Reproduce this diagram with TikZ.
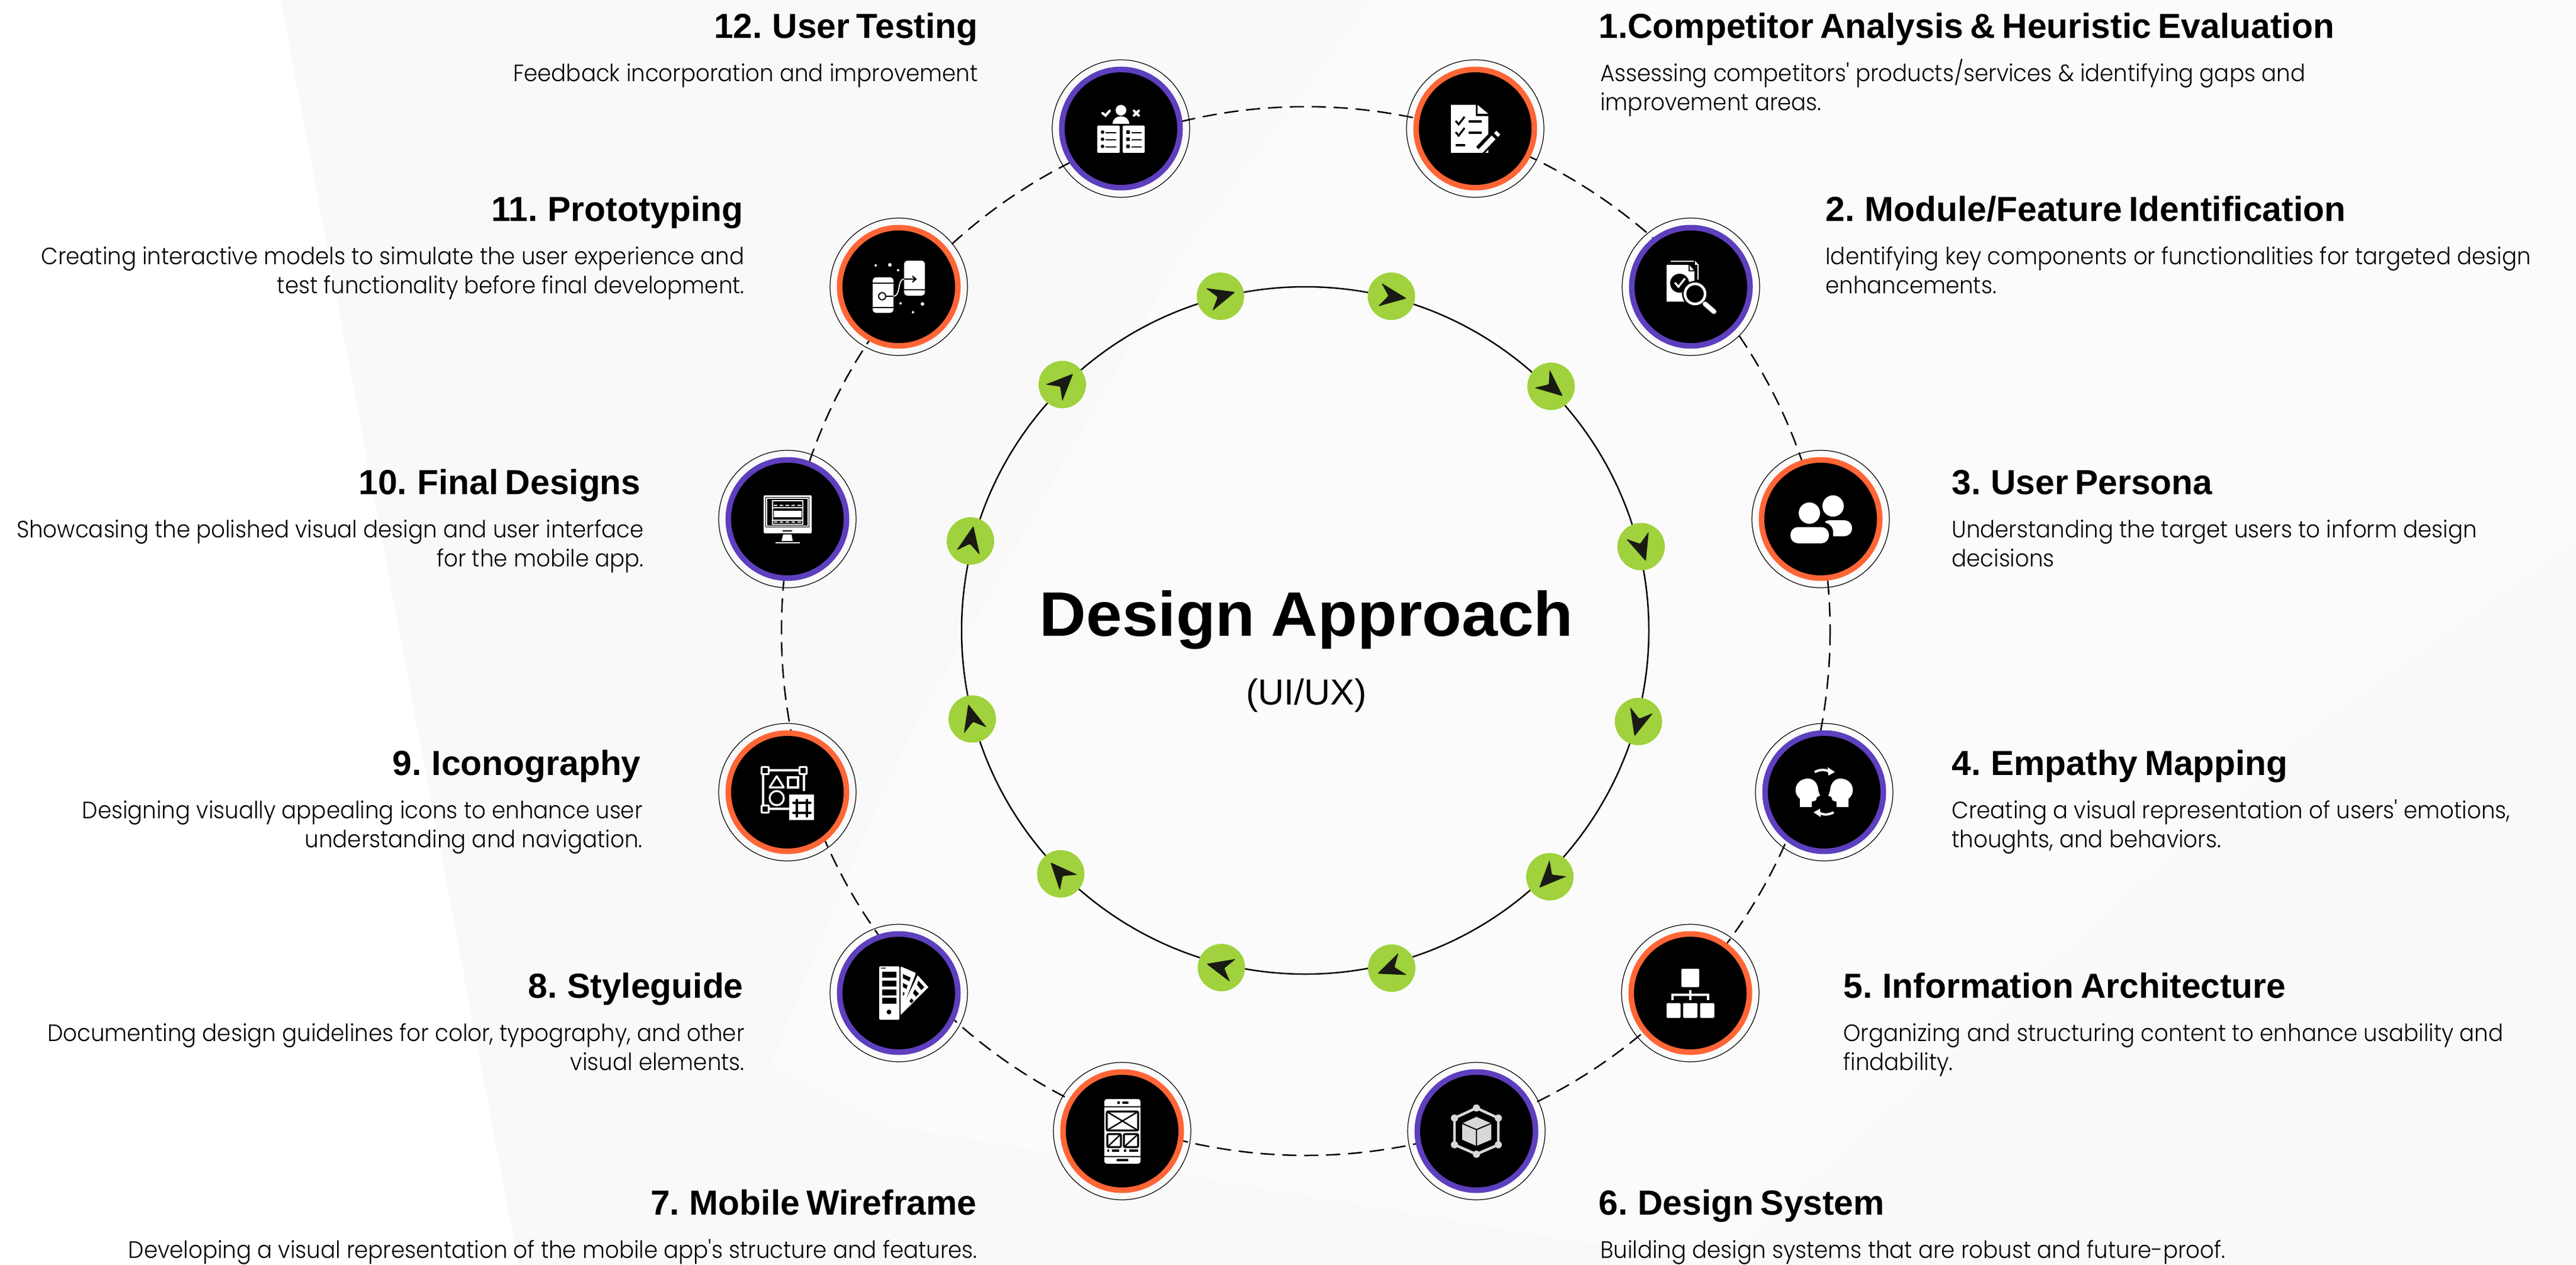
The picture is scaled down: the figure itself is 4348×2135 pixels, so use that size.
\documentclass[tikz,border=0pt]{standalone}
\usepackage{fontspec}
\setmainfont{Liberation Sans}
\newfontfamily\bodyfont[FakeStretch=0.93]{Poppins Light}
\newfontfamily\headfont[WordSpace=0.7]{Liberation Sans}
\newfontfamily\titlefont[FakeStretch=1.03,WordSpace=0.9]{Liberation Sans}
\definecolor{bggray}{HTML}{F9F9F9}
\definecolor{bglight}{HTML}{FBFBFB}
\definecolor{ringorange}{HTML}{FF6536}
\definecolor{ringpurple}{HTML}{5E3FBE}
\definecolor{navgreen}{HTML}{9FD23C}
\definecolor{navink}{HTML}{1A1A14}
\definecolor{cubegray}{HTML}{D8D8D8}
\tikzset{
  x=0.5pt,y=-0.5pt,
  outerring/.style={circle,draw=black,line width=0.6pt,minimum size=116pt,inner sep=0pt},
  colorring/.style={circle,fill=#1,minimum size=104.5pt,inner sep=0pt},
  coredisc/.style={circle,fill=black,minimum size=95pt,inner sep=0pt},
  navdisc/.style={circle,fill=navgreen,minimum size=40pt,inner sep=0pt},
  headl/.style={anchor=base east,inner sep=0pt,font=\headfont\bfseries\fontsize{29.4}{34}\selectfont},
  headr/.style={anchor=base west,inner sep=0pt,font=\headfont\bfseries\fontsize{29.4}{34}\selectfont},
  descl/.style={anchor=base east,inner sep=0pt,align=right,font=\bodyfont\fontsize{20}{24.5}\selectfont},
  descr/.style={anchor=base west,inner sep=0pt,align=left,font=\bodyfont\fontsize{20}{24.5}\selectfont},
  wl/.style={draw=white,line width=#1pt},
  kl/.style={draw=black,line width=#1pt},
}
\newcommand\stepdisc[4]{%
  \node[outerring] (#1) at (#2,#3) {};
  \node[colorring=#4] (#1r) at (#1.center) {};
  \node[coredisc] (#1c) at (#1.center) {};
}
\newcommand\navmark[4]{%
  \node[navdisc] (#1) at (#2,#3) {};
  \begin{scope}[shift={(#1.center)},rotate=#4]
    \fill[navink,rounded corners=0.8pt] (26,0)--(-20,20)--(-5,0)--(-20,-20)--cycle;
  \end{scope}
}
\begin{document}
\begin{tikzpicture}
\useasboundingbox (0,0) rectangle (4348,2135);
% background
\fill[white] (0,0) rectangle (4348,2135);
\fill[bggray] (474,0)--(875,2135)--(4348,2135)--(4348,0)--cycle;
\fill[bglight] (2315,0)--(2200,150)--(2047,360)--(2000,420)--(1540,1233)--(1447,1437)--(1301,1797)--(1500,1900)--(2900,2135)--(3300,1775)--(3882,1248)--(4348,915)--(4348,0)--cycle;
% rings
\coordinate (hub) at (2204,1065);
\draw[black,line width=1.25pt,dash pattern=on 12pt off 6.5pt] (hub) circle (885);
\draw[black,line width=1.25pt] (2203,1064) circle (580);
% step discs
\stepdisc{s1}{2490}{217}{ringorange}
\stepdisc{s2}{2854}{484}{ringpurple}
\stepdisc{s3}{3073}{876}{ringorange}
\stepdisc{s4}{3079}{1337}{ringpurple}
\stepdisc{s5}{2853}{1676}{ringorange}
\stepdisc{s6}{2492}{1909}{ringpurple}
\stepdisc{s7}{1894}{1909}{ringorange}
\stepdisc{s8}{1517}{1676}{ringpurple}
\stepdisc{s9}{1329}{1337}{ringorange}
\stepdisc{s10}{1329}{876}{ringpurple}
\stepdisc{s11}{1517}{484}{ringorange}
\stepdisc{s12}{1892}{217}{ringpurple}
% nav marks
\navmark{n1}{2060}{500}{16}
\navmark{n2}{2348.5}{500}{-8}
\navmark{n3}{2618}{652}{-40}
\navmark{n4}{2770}{922.5}{-72}
\navmark{n5}{2765.5}{1217.7}{-105}
\navmark{n6}{2616}{1479.7}{-134}
\navmark{n7}{2349}{1634}{-159}
\navmark{n8}{2061.6}{1633}{166}
\navmark{n9}{1790.4}{1474.8}{132}
\navmark{n10}{1641}{1213.5}{105}
\navmark{n11}{1638}{913}{79}
\navmark{n12}{1793}{649}{45}
% ---- icon 1
\begin{scope}[shift={(s1.center)}]
  \fill[white] (-41,-40)--(1,-40)--(1,-21)--(22,-21)--(22,41)--(-41,41)--cycle;
  \fill[white] (4,-40)--(22,-25)--(4,-25)--cycle;
  \draw[kl=1.6] (-33,-13)--(-28,-7)--(-18,-20);
  \draw[kl=1.6] (-33,6)--(-28,12)--(-18,-1);
  \draw[kl=2] (-11,-12)--(11,-12) (-11,7)--(11,7) (-33,28)--(-17,28);
  \draw[kl=9] (8,37)--(37,7);
  \fill[black] (10,41) rectangle (24,44);
  \draw[wl=4.5] (9,38)--(31,15);
  \draw[wl=4.5] (35,11)--(39,7);
\end{scope}
% ---- icon 2
\begin{scope}[shift={(s2.center)}]
  \draw[wl=1.2] (-34,-43)--(5,-43) (12,-38)--(12,-12);
  \fill[white] (-41,-37)--(-3,-37)--(6,-27)--(6,25)--(-41,25)--cycle;
  \fill[white] (7,-44)--(13,-37)--(7,-37)--cycle;
  \draw[kl=0.8] (-3,-37)--(-3,-27)--(6,-27);
  \fill[black] (-19,-6) circle (16);
  \draw[wl=1.6] (-27,-7)--(-21,0)--(-10,-14);
  \fill[black] (7,12) circle (22);
  \draw[wl=2.2,fill=black] (7,12) circle (17);
  \draw[wl=4,line cap=round] (24,29)--(39,42);
\end{scope}
% ---- icon 3
\begin{scope}[shift={(s3.center)}]
  \fill[white] (21,-22) circle (18);
  \fill[white,rounded corners=6.5pt] (2,2) rectangle (53,29);
  \fill[black,rounded corners=8pt] (-58,6) rectangle (21,48);
  \fill[black] (2,0) rectangle (8,8);
  \fill[white] (-19,-10) circle (18);
  \fill[white,rounded corners=6.5pt] (-51,13.5) rectangle (14,41);
\end{scope}
% ---- icon 4
\begin{scope}[shift={(s4.center)}]
  \fill[white] (-41,25)--(-41,11) .. controls (-55,0) and (-48,-23) .. (-27,-23) .. controls (-16,-23) and (-10,-12) .. (-10,-3)--(-7,6)--(-12,8)--(-14,14)--(-21,16)--(-21,25)--cycle;
  \fill[white] (41,25)--(41,11) .. controls (55,0) and (48,-23) .. (27,-23) .. controls (16,-23) and (10,-12) .. (10,-3)--(7,6)--(12,8)--(14,14)--(21,16)--(21,25)--cycle;
  \draw[wl=2] (-16,-34) .. controls (-6,-39) and (3,-39) .. (11,-33);
  \fill[white] (6,-42)--(18,-34)--(7,-28)--cycle;
  \draw[wl=2] (16,34) .. controls (6,39) and (-3,39) .. (-11,33);
  \fill[white] (-6,42)--(-18,34)--(-7,28)--cycle;
\end{scope}
% ---- icon 5
\begin{scope}[shift={(s5.center)}]
  \fill[white,rounded corners=0.8pt] (-15,-41) rectangle (15,-10);
  \draw[wl=1.6] (0,-5)--(0,12);
  \draw[wl=1.6] (-30,12)--(-30,3)--(30,3)--(30,12);
  \fill[white,rounded corners=0.8pt] (-40,17) rectangle (-16.5,42);
  \fill[white,rounded corners=0.8pt] (-12,17) rectangle (12,42);
  \fill[white,rounded corners=0.8pt] (16.5,17) rectangle (40.5,42);
\end{scope}
% ---- icon 6
\begin{scope}[shift={(s6.center)}]
  \draw[draw=cubegray,line width=2.2pt] (0,-39)--(37,-22)--(37,23)--(0,39)--(-37,23)--(-37,-22)--cycle;
  \foreach \px/\py in {0/-39,37/-22,37/23,0/39,-37/23,-37/-22}{\fill[cubegray] (\px,\py) circle (6);}
  \fill[cubegray] (0,-24)--(25,-13)--(25,14.5)--(0,25)--(-24,14.5)--(-24,-13)--cycle;
  \draw[kl=1] (-24,-13)--(0,-2.5)--(25,-13) (0,-2.5)--(0,25);
\end{scope}
% ---- icon 7
\begin{scope}[shift={(s7.center)}]
  \fill[white,rounded corners=2pt] (-30,-54) rectangle (31,55);
  \fill[black] (-6,-48) circle (2.5);
  \draw[kl=2,line cap=round] (2,-48)--(9,-48);
  \draw[kl=1.1] (-30,-41)--(31,-41) (-30,43)--(31,43);
  \draw[kl=1.6,rounded corners=1pt] (-26,-33) rectangle (27,-1);
  \draw[kl=1.2] (-26,-33)--(27,-1) (27,-33)--(-26,-1);
  \draw[kl=1.6,rounded corners=1pt] (-25,5) rectangle (-2,27);
  \draw[kl=1.2] (-25,27)--(-2,5);
  \draw[kl=1.6,rounded corners=1pt] (3,5) rectangle (27,27);
  \draw[kl=1.2] (3,27)--(27,5);
  \draw[kl=1.6] (-25,33)--(-22,33) (-17,33)--(-5,33) (3,33)--(7,33) (12,33)--(27,33);
  \draw[kl=1.6,line cap=round] (-8,49)--(9,49);
\end{scope}
% ---- icon 8
\begin{scope}[shift={(s8.center)}]
  \fill[white,rounded corners=1pt] (3,-45)--(29,-34)--(3,36)--cycle;
  \fill[black] (7,-32)--(20,-26)--(18,-20)--(7,-25)--cycle (7,-17)--(15,-13)--(13,-7)--(7,-10)--cycle (7,-2)--(10,0)--(8,5)--(7,4)--cycle;
  \fill[white] (32,-30)--(50,-10)--(3,37)--(8,20)--cycle;
  \fill[black] (33,-21)--(43,-10)--(38,-5)--(31,-14)--cycle (27,-6)--(34,1)--(29,6)--(24,0)--cycle (21,9)--(25,13)--(21,17)--(18,14)--cycle;
  \fill[white,rounded corners=1pt] (-33,-45) rectangle (1,45);
  \fill[black] (-28,-36) rectangle (-4,-26) (-28,-21) rectangle (-4,-11) (-28,-6) rectangle (-4,4) (-28,8) rectangle (-4,18);
  \fill[black] (-16.5,32) circle (4);
  \fill[black!70] (-30,-43) rectangle (-22,-41);
\end{scope}
% ---- icon 9
\begin{scope}[shift={(s9.center)}]
  \draw[wl=1.6] (-30,-37)--(19,-37) (-41,-29)--(-41,21) (28,-29)--(28,-2) (-30,28)--(3,28);
  \foreach \px/\py in {-37.5/-36.5,26.5/-36.5,-37.5/28.5}{\draw[wl=1.6,fill=black,rounded corners=0.6pt] (\px-6,\py-6) rectangle (\px+6,\py+6);}
  \draw[wl=1.6,line join=round] (-18,-27)--(-6,-8)--(-30,-8)--cycle;
  \draw[wl=1.8] (1,-25) rectangle (18,-8);
  \draw[wl=1.6] (-18,10) circle (12);
  \fill[white] (3,4) rectangle (45,47);
  \draw[kl=1.8,line cap=round] (16,13)--(16,41) (33,13)--(33,41) (10,18)--(39,18) (10,35)--(39,35);
\end{scope}
% ---- icon 10
\begin{scope}[shift={(s10.center)}]
  \fill[white,rounded corners=1pt] (-40,-40) rectangle (41,24);
  \fill[black] (-37,-37) rectangle (37,14);
  \draw[wl=0.7] (-35,-35) rectangle (35,12);
  \draw[wl=1] (-25,-31) rectangle (26,9);
  \fill[white] (-23,-14) rectangle (24,-3);
  \foreach \py in {-23,5}{\foreach \px in {-20,-10,0,10,20}{\draw[wl=1] (\px-3,\py) -- (\px+3,\py);}}
  \draw[wl=0.8] (-24,-19)--(25,-19) (-24,2)--(25,2);
  \draw[kl=1] (-8,20)--(8,20);
  \fill[white] (-7,26)--(7,26)--(9,37)--(-10,37)--cycle;
  \draw[wl=1.2] (-20,40)--(21,40);
\end{scope}
% ---- icon 11
\begin{scope}[shift={(s11.center)}]
  \fill[white,rounded corners=3pt] (-44,-16) rectangle (-9,44);
  \fill[white,rounded corners=3pt] (9,-44) rectangle (44,15);
  \draw[kl=1.1] (-44,-6)--(-9,-6) (-44,35)--(-9,35) (9,5)--(44,5);
  \draw[kl=1,fill=white] (-28,16) circle (6);
  \draw[kl=0.9] (-22,16)--(-9,16);
  \draw[wl=0.9] (-9,16) .. controls (4,16) and (-3,-13) .. (9,-13);
  \draw[kl=1.1] (9,-13)--(28,-13) (23,-18)--(29,-13)--(23,-8);
  \foreach \px/\py/\pr in {-39/-36/2,-15/-37/3,-1/-28/2,3/28/2,40/29/3,24/43/2}{\fill[white] (\px,\py) circle (\pr);}
\end{scope}
% ---- icon 12
\begin{scope}[shift={(s12.center)}]
  \fill[white] (0,-31) circle (9);
  \fill[white] (-14,-8) .. controls (-14,-25) and (14,-25) .. (14,-8) -- cycle;
  \draw[wl=2,line cap=round] (-31,-26)--(-26,-22)--(-19,-30);
  \draw[wl=2,line cap=round] (22,-30)--(30,-22) (22,-22)--(30,-30);
  \fill[white,rounded corners=1pt] (-40,-5) rectangle (-2,41);
  \fill[white,rounded corners=1pt] (3,-5) rectangle (40,41);
  \foreach \yy in {6,18,30}{
    \fill[black] (-31,\yy) circle (3);
    \fill[black] (9,\yy-3) rectangle (15,\yy+3);
    \draw[kl=1.2] (-26,\yy+1)--(-8,\yy+1) (18,\yy+1)--(35,\yy+1);
  }
\end{scope}
% title
\node[anchor=base,inner sep=0pt,font=\titlefont\bfseries\fontsize{53}{60}\selectfont] (title) at (2205,1073) {Design Approach};
\node[anchor=base,inner sep=0pt,font=\fontsize{30.5}{34}\selectfont] (subtitle) at (2205,1189) {(UI/UX)};
% right labels
\node[headr] (h1) at (2698,65) {1.Competitor Analysis \& Heuristic Evaluation};
\node[descr] (d1) at (2701,187) {Assessing competitors' products/services \& identifying gaps and\\improvement areas.};
\node[headr] (h2) at (3081,373) {2. Module/Feature Identification};
\node[descr] (d2) at (3081,495) {Identifying key components or functionalities for targeted design\\enhancements.};
\node[headr] (h3) at (3294,834) {3. User Persona};
\node[descr] (d3) at (3294,956) {Understanding the target users to inform design\\decisions};
\node[headr] (h4) at (3294,1308) {4. Empathy Mapping};
\node[descr] (d4) at (3294,1430) {Creating a visual representation of users' emotions,\\thoughts, and behaviors.};
\node[headr] (h5) at (3111,1684) {5. Information Architecture};
\node[descr] (d5) at (3111,1806) {Organizing and structuring content to enhance usability and\\findability.};
\node[headr] (h6) at (2698,2050) {6. Design System};
\node[descr] (d6) at (2701,2123) {Building design systems that are robust and future-proof.};
% left labels
\node[headl] (h12) at (1651,65) {12. User Testing};
\node[descl] (d12) at (1651,138) {Feedback incorporation and improvement};
\node[headl] (h11) at (1255,373) {11. Prototyping};
\node[descl] (d11) at (1257,495) {Creating interactive models to simulate the user experience and\\test functionality before final development.};
\node[headl] (h10) at (1082,834) {10. Final Designs};
\node[descl] (d10) at (1087,956) {Showcasing the polished visual design and user interface\\for the mobile app.};
\node[headl] (h9) at (1082,1308) {9. Iconography};
\node[descl] (d9) at (1085,1430) {Designing visually appealing icons to enhance user\\understanding and navigation.};
\node[headl] (h8) at (1255,1684) {8. Styleguide};
\node[descl] (d8) at (1257,1806) {Documenting design guidelines for color, typography, and other\\visual elements.};
\node[headl] (h7) at (1649,2050) {7. Mobile Wireframe};
\node[descl] (d7) at (1650,2123) {Developing a visual representation of the mobile app's structure and features.};
\end{tikzpicture}
\end{document}
